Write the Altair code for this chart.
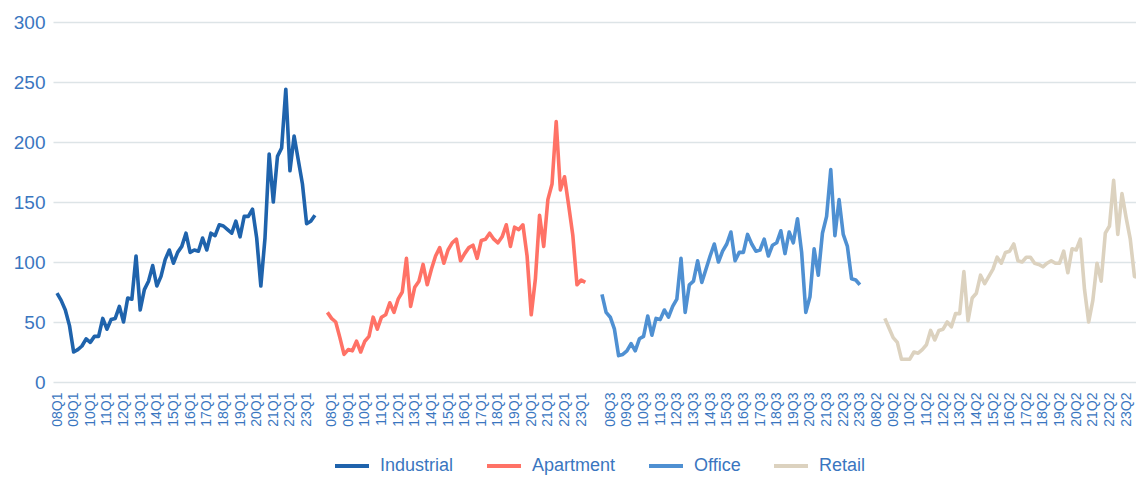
import altair as alt
import pandas as pd

# ---- data ----
series_names = ["Industrial", "Apartment", "Office", "Retail"]
series_colors = ["#1f63ac", "#ff7266", "#4f90d2", "#dcd2bf"]

industrial = [74, 68, 60, 47, 25, 27, 30, 36, 33, 38, 38, 53, 44, 52, 53, 63, 50, 70, 69, 105,
              60, 77, 84, 97, 80, 88, 102, 110, 99, 108, 113, 124, 108, 110, 109, 120, 110, 124,
              122, 131, 130, 127, 124, 134, 121, 138, 138, 144, 120, 80, 120, 190, 150, 188, 195,
              244, 176, 205, 185, 165, 132, 134, 139]
apartment = [58, 53, 50, 37, 23, 27, 26, 34, 25, 34, 38, 54, 44, 54, 56, 66, 58, 69, 75, 103,
             63, 79, 84, 98, 81, 94, 105, 112, 99, 110, 116, 119, 101, 107, 112, 114, 103, 118,
             119, 124, 119, 116, 121, 131, 113, 129, 127, 131, 105, 56, 86, 139, 113, 152, 165,
             217, 160, 171, 147, 122, 81, 85, 83]
office = [73, 58, 54, 44, 22, 23, 26, 32, 26, 36, 38, 55, 39, 53, 52, 60, 54, 63, 69, 103,
          58, 81, 84, 101, 83, 94, 105, 115, 100, 109, 115, 125, 101, 108, 108, 123, 115, 109,
          110, 119, 105, 114, 116, 126, 107, 125, 116, 136, 108, 58, 71, 111, 89, 124, 138,
          177, 122, 152, 123, 113, 86, 85, 81]
retail = [53, 45, 37, 33, 19, 19, 19, 25, 24, 27, 31, 43, 35, 43, 44, 50, 46, 57, 57, 92,
          51, 70, 74, 89, 82, 88, 94, 104, 99, 108, 109, 115, 101, 100, 104, 104, 99, 98,
          96, 99, 101, 99, 99, 109, 91, 111, 110, 119, 77, 50, 68, 99, 84, 124, 130,
          168, 123, 157, 137, 119, 88, 87, 80]

# tick labels of each block (one every four quarters)
years = ["08", "09", "10", "11", "12", "13", "14", "15", "16", "17", "18", "19", "20", "21", "22", "23"]
industrial_ticks = [y + "Q1" for y in years]
apartment_ticks = [y + "Q1" for y in years]
office_ticks = [y + "Q3" for y in years]
retail_ticks = [y + "Q2" for y in years]

# ---- layout of the concatenated category axis (slot index of each block) ----
block_start = {"Industrial": 0, "Apartment": 65, "Office": 131, "Retail": 199}
tick_start = {"Industrial": 0, "Apartment": 66, "Office": 133, "Retail": 197}

values_by_series = {"Industrial": industrial, "Apartment": apartment,
                    "Office": office, "Retail": retail}
ticks_by_series = {"Industrial": industrial_ticks, "Apartment": apartment_ticks,
                   "Office": office_ticks, "Retail": retail_ticks}

rows = []
for name in series_names:
    for i, v in enumerate(values_by_series[name]):
        rows.append({"slot": block_start[name] + i, "value": v, "series": name})
df = pd.DataFrame(rows)

tick_values = []
tick_map = {}
for name in series_names:
    for k, lab in enumerate(ticks_by_series[name]):
        pos = tick_start[name] + 4 * k
        tick_values.append(pos)
        tick_map[pos] = lab
label_expr = "{" + ",".join(f"'{p}':'{t}'" for p, t in tick_map.items()) + "}[datum.value]"

W = 1083
H = 360
step = 4.16
first_px = 4.0
x_domain = [-first_px / step, (W - first_px) / step]

text_color = "#3a76c0"

chart = alt.Chart(df).mark_line(strokeWidth=3.6, strokeJoin="round", clip=True).encode(
    x=alt.X("slot:Q",
            scale=alt.Scale(domain=x_domain, nice=False, zero=False),
            axis=alt.Axis(values=tick_values, labelExpr=label_expr, labelAngle=270,
                          labelFontSize=14, labelColor=text_color, labelPadding=10,
                          ticks=False, domain=False, grid=False, title=None,
                          labelOverlap=False, labelFlush=False, labelBound=False)),
    y=alt.Y("value:Q",
            scale=alt.Scale(domain=[0, 300], nice=False),
            axis=alt.Axis(values=[0, 50, 100, 150, 200, 250, 300], labelFontSize=19,
                          labelColor=text_color, labelPadding=8, ticks=False, domain=False,
                          grid=True, gridColor="#dde4e7", gridWidth=1.6, title=None)),
    color=alt.Color("series:N",
                    scale=alt.Scale(domain=series_names, range=series_colors),
                    legend=alt.Legend(title=None, orient="none", legendX=280, legendY=425,
                                      direction="horizontal", columns=4,
                                      symbolType="stroke", symbolSize=1156,
                                      symbolStrokeWidth=4, labelFontSize=18,
                                      labelColor=text_color, labelOffset=9,
                                      columnPadding=25)),
    detail="series:N",
).properties(
    width=W,
    height=H,
    autosize=alt.AutoSizeParams(type="none"),
    padding={"left": 45, "top": 14, "right": 0, "bottom": 94},
).configure(
    font="Liberation Sans",
).configure_view(
    stroke=None,
)

chart.save("out.html", embed_options={"renderer": "svg", "actions": False})
